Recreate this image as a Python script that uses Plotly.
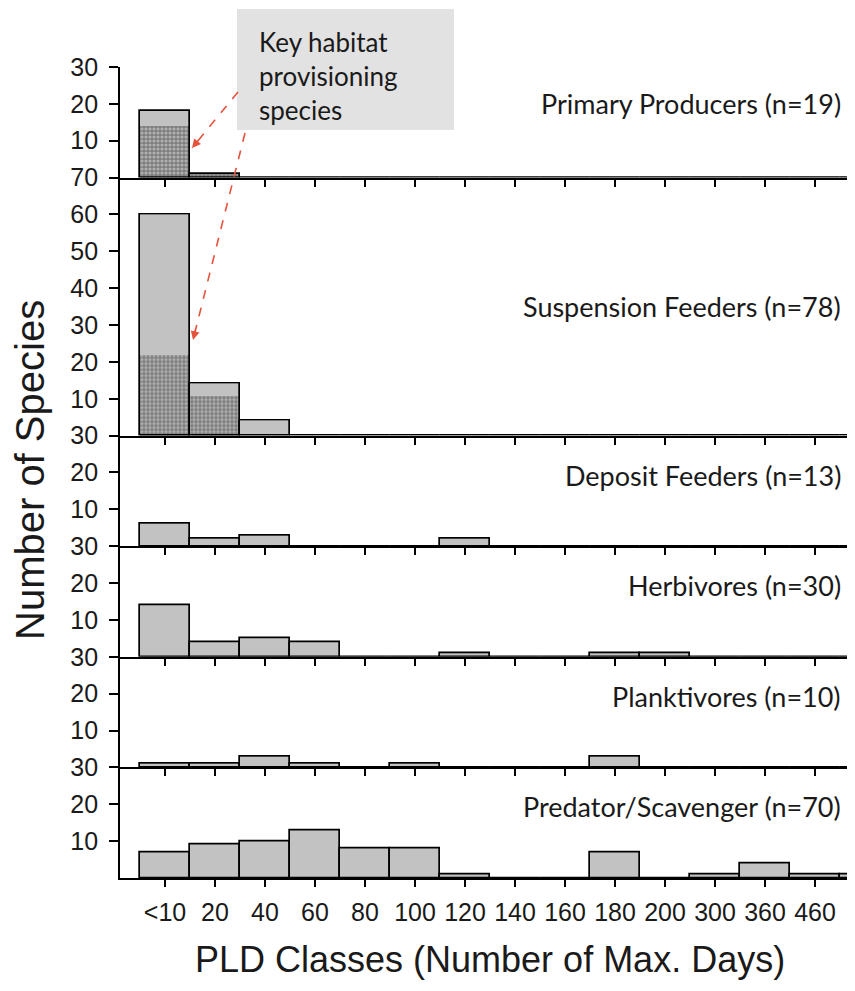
import plotly.graph_objects as go
from plotly.subplots import make_subplots

# ---------------- data ----------------
categories = ["<10", "20", "40", "60", "80", "100", "120", "140", "160",
              "180", "200", "300", "360", "460", ">460"]

primary_total = [18, 1, 0, 0, 0, 0, 0, 0, 0, 0, 0, 0, 0, 0, 0]
primary_key = [14, 1, 0, 0, 0, 0, 0, 0, 0, 0, 0, 0, 0, 0, 0]
suspension_total = [60, 14, 4, 0, 0, 0, 0, 0, 0, 0, 0, 0, 0, 0, 0]
suspension_key = [22, 11, 0, 0, 0, 0, 0, 0, 0, 0, 0, 0, 0, 0, 0]
deposit = [6, 2, 3, 0, 0, 0, 2, 0, 0, 0, 0, 0, 0, 0, 0]
herbivores = [14, 4, 5, 4, 0, 0, 1, 0, 0, 1, 1, 0, 0, 0, 0]
planktivores = [1, 1, 3, 1, 0, 1, 0, 0, 0, 3, 0, 0, 0, 0, 0]
predator = [7, 9, 10, 13, 8, 8, 1, 0, 0, 7, 0, 1, 4, 1, 1]

panel_labels = ["Primary Producers (n=19)", "Suspension Feeders (n=78)",
                "Deposit Feeders (n=13)", "Herbivores (n=30)",
                "Planktivores (n=10)", "Predator/Scavenger (n=70)"]
panel_totals = [primary_total, suspension_total, deposit, herbivores,
                planktivores, predator]
panel_keys = [primary_key, suspension_key, None, None, None, None]
panel_ymax = [30, 70, 30, 30, 30, 30]

x_title = "PLD Classes (Number of Max. Days)"
y_title = "Number of Species"
note_text = "Key habitat<br>provisioning<br>species"

# ---------------- layout geometry ----------------
# page body has an 8px margin, so the figure is shifted by 8px
OFF = 8
W, H = 855 - OFF, 991 - OFF
ML, MR, MT, MB = 120 - OFF, 0, 67 - OFF, 113
PW, PH = W - ML - MR, H - MT - MB


def px(xr):
    return (xr - OFF - ML) / PW


def py(yr):
    return (H - MB - (yr - OFF)) / PH


GREY = "#c2c2c2"
TICKFONT = dict(family="Liberation Sans, Arial", size=25, color="#1a1a1a")
LABELFONT = dict(family="Lato, Open Sans", size=27, color="#1a1a1a")

fig = make_subplots(rows=6, cols=1, shared_xaxes=True, vertical_spacing=0,
                    row_heights=panel_ymax)

for i in range(6):
    r = i + 1
    tot = panel_totals[i]
    fig.add_trace(go.Bar(x=categories, y=tot, marker=dict(color=GREY, line=dict(width=0)),
                         showlegend=False), row=r, col=1)
    if panel_keys[i] is not None:
        fig.add_trace(go.Bar(x=categories, y=panel_keys[i],
                             marker=dict(color="#7c7c7c", line=dict(width=0),
                                         pattern=dict(shape=".", fgcolor="#e2e2e2",
                                                      bgcolor="#7c7c7c", size=4,
                                                      solidity=0.5)),
                             showlegend=False), row=r, col=1)
    fig.add_trace(go.Bar(x=categories, y=tot,
                         marker=dict(color="rgba(0,0,0,0)",
                                     line=dict(color="black", width=1.7)),
                         showlegend=False), row=r, col=1)
    ymax = panel_ymax[i]
    fig.update_yaxes(range=[0, ymax], tickvals=list(range(10, ymax + 1, 10)),
                     ticks="outside", ticklen=9, tickwidth=1.5, tickcolor="black",
                     showline=True, linecolor="black", linewidth=1.7,
                     showgrid=False, zeroline=False, tickfont=TICKFONT,
                     ticklabelstandoff=6, row=r, col=1)
    fig.update_xaxes(type="category", categoryorder="array", categoryarray=categories,
                     range=[-0.9, 13.8], ticks="outside", ticklen=7, tickwidth=1.5,
                     tickcolor="black", showline=True, linecolor="black", linewidth=2,
                     showgrid=False, zeroline=False, tickfont=TICKFONT,
                     showticklabels=(r == 6), row=r, col=1)

fig.update_xaxes(ticklabelstandoff=4, row=6, col=1)

# panel labels
label_y = [103, 306, 476, 585, 696, 806]
for lab, ly in zip(panel_labels, label_y):
    fig.add_annotation(x=px(843), y=py(ly), xref="paper", yref="paper",
                       xanchor="right", yanchor="middle", text=lab,
                       showarrow=False, font=LABELFONT)

# axis titles
fig.add_annotation(x=px(490), y=py(959), xref="paper", yref="paper",
                   xanchor="center", yanchor="middle", text=x_title, showarrow=False,
                   font=dict(family="Liberation Sans, Arial", size=36, color="#1a1a1a"))
fig.add_annotation(x=px(30), y=py(470), xref="paper", yref="paper",
                   xanchor="center", yanchor="middle", text=y_title, showarrow=False,
                   textangle=-90,
                   font=dict(family="Liberation Sans, Arial", size=40, color="#1a1a1a"))

# note box
fig.add_shape(type="rect", xref="paper", yref="paper",
              x0=px(237), x1=px(454), y0=py(130), y1=py(9),
              fillcolor="#e2e2e2", line=dict(width=0), layer="below")
fig.add_annotation(x=px(257), y=py(76), xref="paper", yref="paper",
                   xanchor="left", yanchor="middle", align="left", text=note_text,
                   showarrow=False,
                   font=dict(family="Lato, Open Sans", size=26, color="#1a1a1a"))

# dashed red arrows
RED = "#e5533d"
arrows = [((238, 92), (192, 148)), ((245, 133), (193, 340))]
for (sx, sy), (ex, ey) in arrows:
    fig.add_shape(type="line", xref="paper", yref="paper",
                  x0=px(sx), y0=py(sy), x1=px(ex), y1=py(ey),
                  line=dict(color=RED, width=1.6, dash="dash"))
    dx, dy = sx - ex, sy - ey
    n = (dx * dx + dy * dy) ** 0.5
    fig.add_annotation(x=px(ex), y=py(ey), xref="paper", yref="paper",
                       ax=dx / n * 12, ay=dy / n * 12, text="", showarrow=True,
                       arrowhead=2, arrowsize=1.1, arrowwidth=1.6, arrowcolor=RED)

fig.update_layout(width=W, height=H, barmode="overlay", bargap=0,
                  margin=dict(l=ML, r=MR, t=MT, b=MB),
                  paper_bgcolor="white", plot_bgcolor="white", showlegend=False)

fig.write_html("out.html")
